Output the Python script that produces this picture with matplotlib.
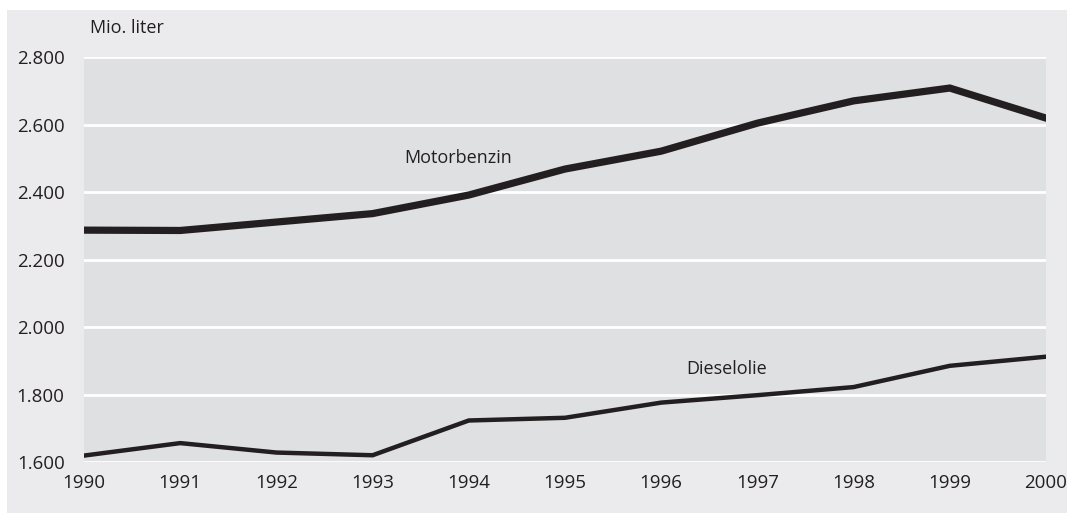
import matplotlib.pyplot as plt
from matplotlib.patches import Rectangle

years = [1990, 1991, 1992, 1993, 1994, 1995, 1996, 1997, 1998, 1999, 2000]
motorbenzin = [2287, 2286, 2311, 2336, 2391, 2468, 2521, 2604, 2670, 2708, 2619]
dieselolie = [1619, 1656, 1628, 1620, 1723, 1731, 1776, 1798, 1822, 1885, 1912]
yticks = [1600, 1800, 2000, 2200, 2400, 2600, 2800]

plt.rcParams['font.family'] = ['Open Sans', 'DejaVu Sans']
plt.rcParams['font.size'] = 13

fig = plt.figure(figsize=(10.67, 5.13), dpi=100)
fig.patch.set_facecolor('white')
# light gray panel behind everything (white margin top/left)
fig.patches.append(Rectangle((7 / 1067, 0), 1, 503 / 513, transform=fig.transFigure,
                             facecolor='#ebebed', edgecolor='none', zorder=-10))

ax = fig.add_axes([84 / 1067, 1 - 462 / 513, (1046 - 84) / 1067, (462 - 57) / 513])
ax.set_facecolor('#dfe0e2')
for s in ax.spines.values():
    s.set_visible(False)

ax.plot(years, motorbenzin, color='#231f20', lw=5.2, solid_joinstyle='miter', zorder=3)
ax.plot(years, dieselolie, color='#231f20', lw=3.2, solid_joinstyle='miter', zorder=3)

ax.set_xlim(1990, 2000)
ax.set_ylim(1600, 2800)
ax.set_yticks(yticks)
ax.set_yticklabels([f'{v:,}'.replace(',', '.') for v in yticks])
ax.set_xticks(years)
ax.set_xticklabels([str(y) for y in years])
ax.tick_params(length=0, colors='#231f20', labelsize=13.5)
ax.tick_params(axis='y', pad=14)
ax.tick_params(axis='x', pad=9)
ax.yaxis.grid(True, color='white', lw=2)
ax.set_axisbelow(True)
for lbl in ax.get_yticklabels() + ax.get_xticklabels():
    lbl.set_clip_on(False)

ax.text(1993.33, 2500, 'Motorbenzin', fontsize=13, color='#231f20', va='center', ha='left')
ax.text(1996.26, 1876, 'Dieselolie', fontsize=13, color='#231f20', va='center', ha='left')
fig.text(90 / 1067, 1 - 28 / 513, 'Mio. liter', fontsize=13, color='#231f20', va='center', ha='left')

fig.savefig('out.png', dpi=100, facecolor=fig.get_facecolor())
